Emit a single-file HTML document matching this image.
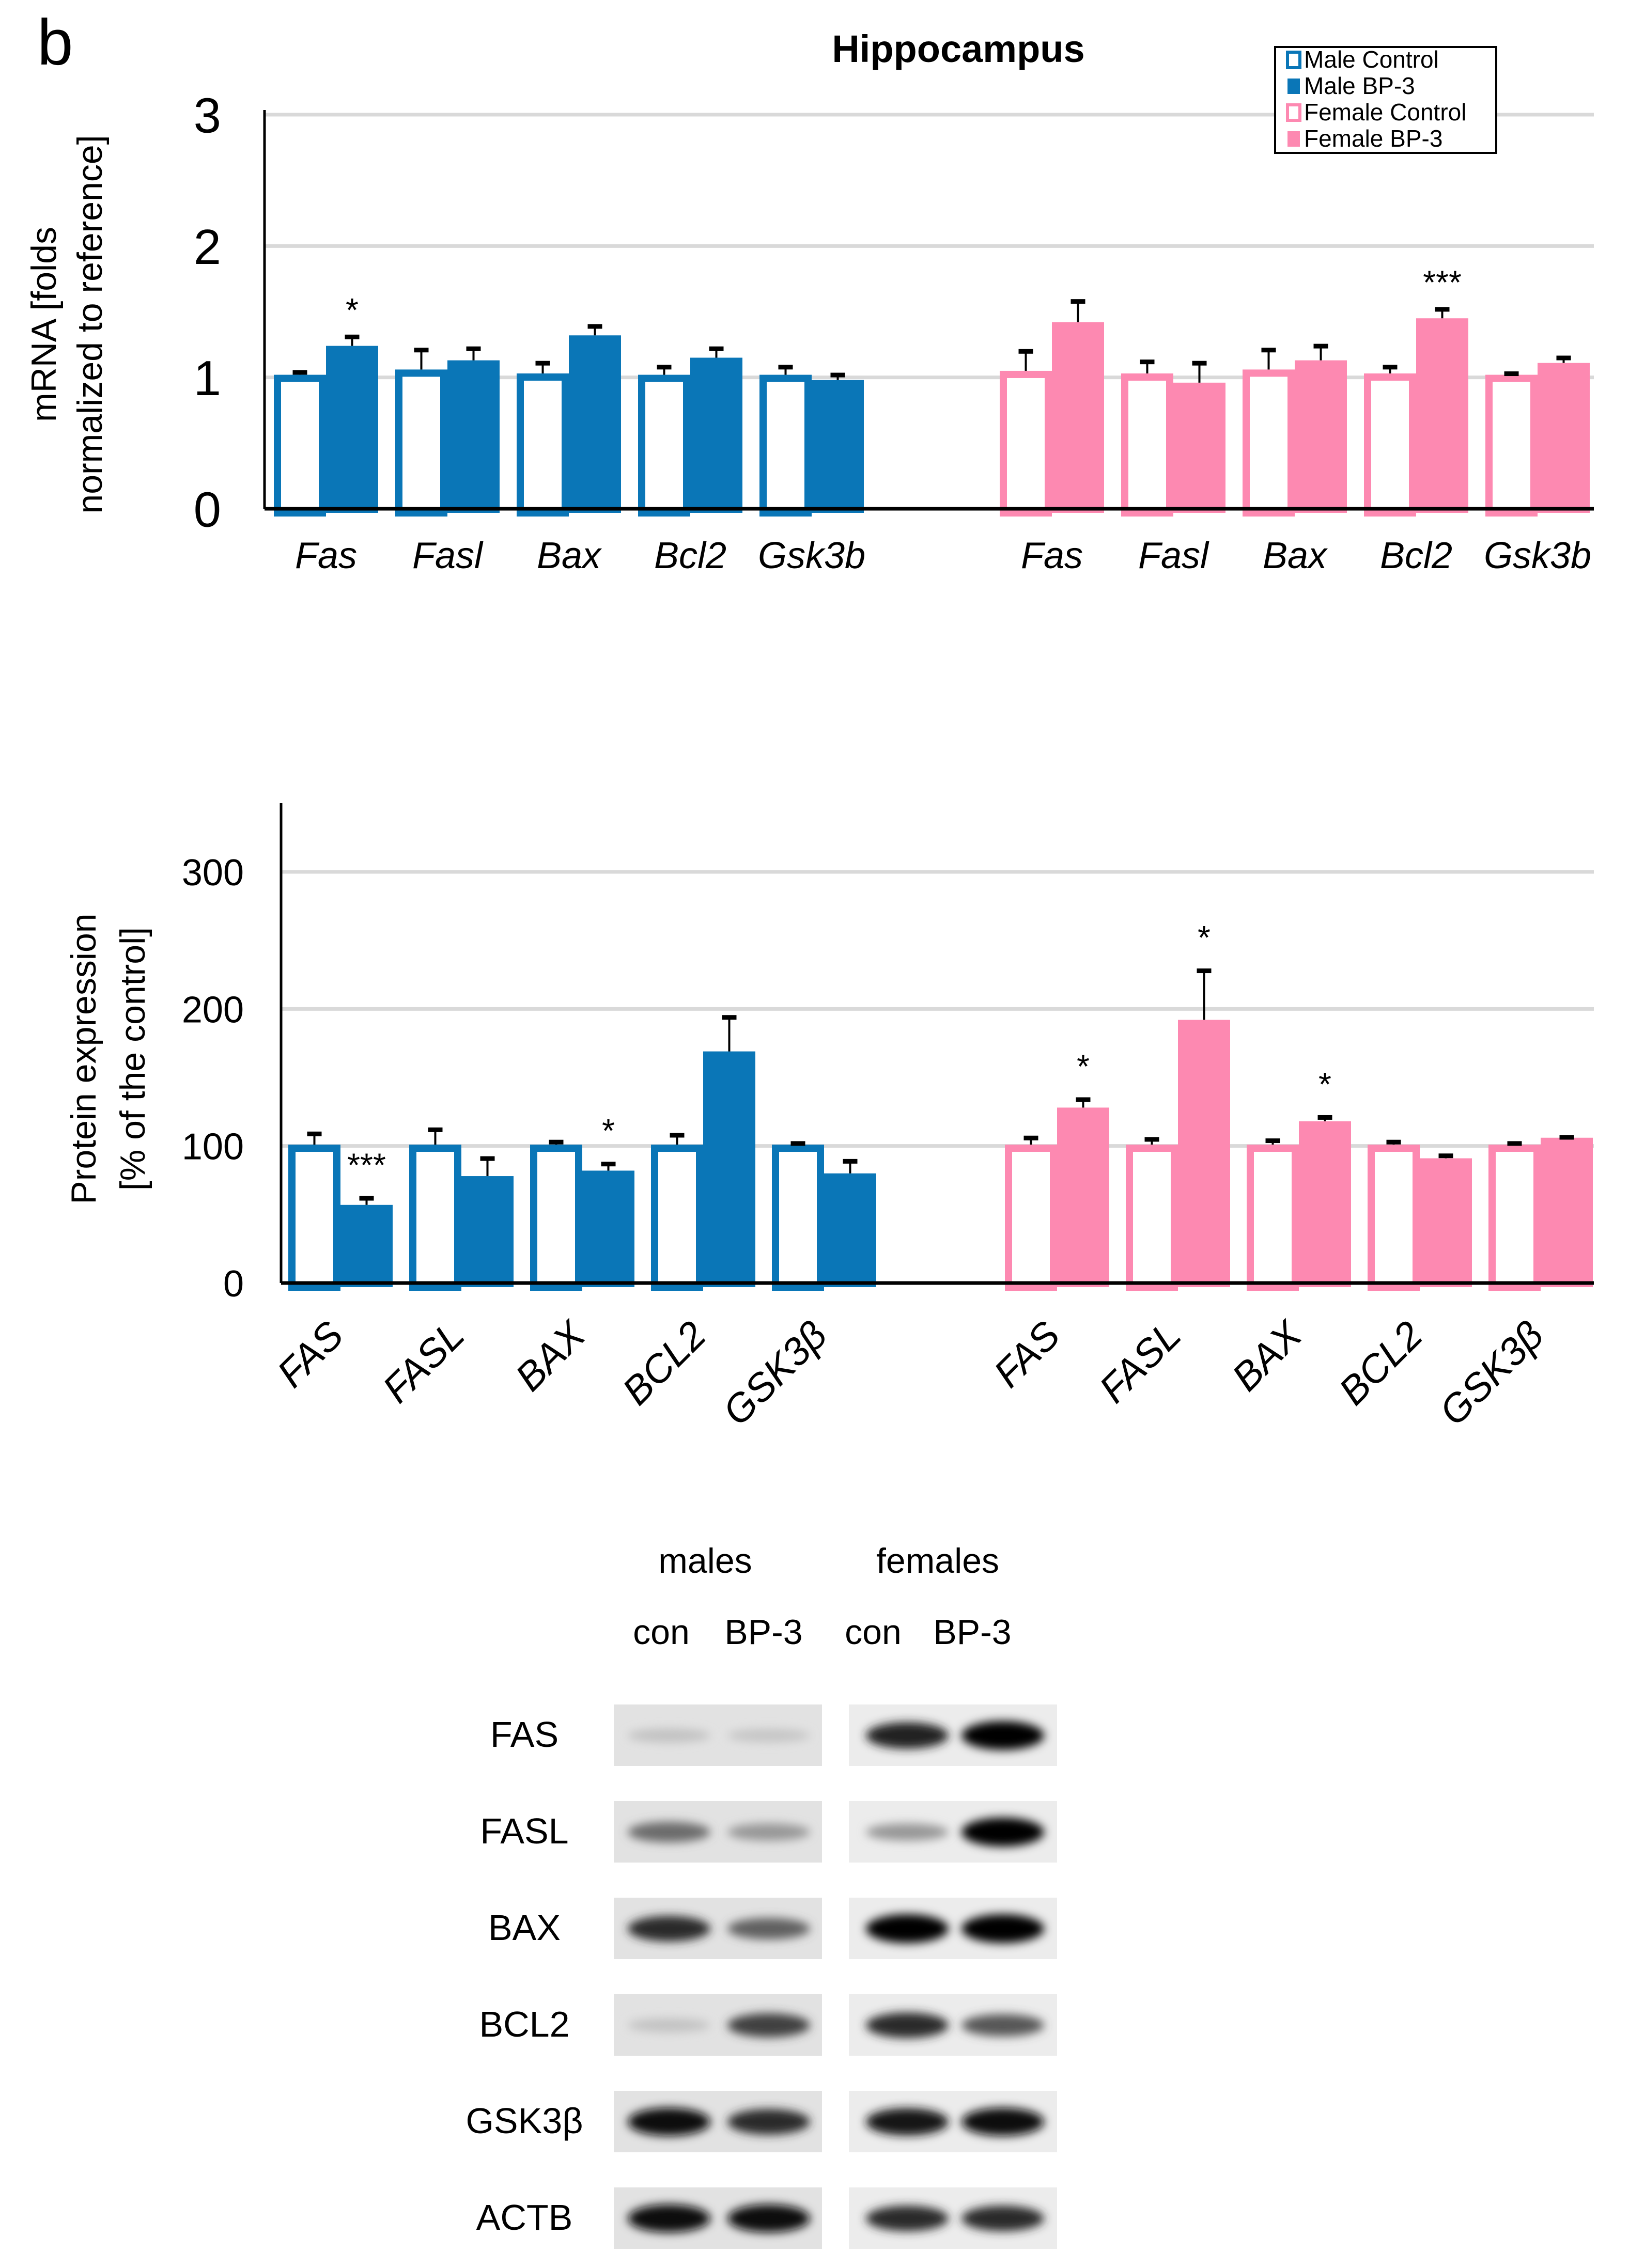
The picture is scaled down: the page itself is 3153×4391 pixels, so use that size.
<!DOCTYPE html>
<html><head><meta charset="utf-8"><style>
html,body{margin:0;padding:0;background:#fff}
svg{display:block}
text{font-family:"Liberation Sans",sans-serif}
</style></head><body>
<svg id="fig" width="3153" height="4391" viewBox="0 0 3153 4391" xmlns="http://www.w3.org/2000/svg">
<defs><filter id="blur" x="-50%" y="-100%" width="200%" height="300%"><feGaussianBlur stdDeviation="9"/></filter></defs>
<text x="72" y="125" font-size="125">b</text>
<text x="1855" y="120" font-size="74" font-weight="bold" text-anchor="middle">Hippocampus</text>
<g id="c1"></g>
<g id="c2"></g>
<g id="blot"></g>
</svg>
<script>
const NS='http://www.w3.org/2000/svg';
const genes1=['Fas','Fasl','Bax','Bcl2','Gsk3b'];
const maleCtrl1=[1.02,1.06,1.03,1.02,1.02];
const maleCtrlErr1=[0.02,0.15,0.08,0.06,0.06];
const maleBP1=[1.24,1.13,1.32,1.15,0.98];
const maleBPErr1=[0.07,0.09,0.07,0.07,0.04];
const femCtrl1=[1.05,1.03,1.06,1.03,1.02];
const femCtrlErr1=[0.15,0.09,0.15,0.05,0.01];
const femBP1=[1.42,0.96,1.13,1.45,1.11];
const femBPErr1=[0.16,0.15,0.11,0.07,0.04];
const stars1=[['male',0,'*'],['female',3,'***']];
const ticks1=[0,1,2,3];

const genes2=['FAS','FASL','BAX','BCL2','GSK3β'];
const maleCtrl2=[101,101,101,101,101];
const maleCtrlErr2=[8,11,2,7,1];
const maleBP2=[57,78,82,169,80];
const maleBPErr2=[5,13,5,25,9];
const femCtrl2=[101,101,101,101,101];
const femCtrlErr2=[5,4,3,2,1];
const femBP2=[128,192,118,91,106];
const femBPErr2=[6,36,3,2,0.5];
const stars2=[['male',0,'***'],['male',2,'*'],['female',0,'*'],['female',1,'*'],['female',2,'*']];
const ticks2=[0,100,200,300];

function el(tag,attrs,parent,txt){const e=document.createElementNS(NS,tag);for(const k in attrs)e.setAttribute(k,attrs[k]);if(txt!==undefined)e.textContent=txt;parent.appendChild(e);return e;}
const BLUE='#0a76b7',PINK='#fd89b1';

function chart(g,cfg){
  const y=v=>cfg.y0-(v-0)*(cfg.y0-cfg.yTop)/(cfg.vTop);
  cfg.ticks.forEach(t=>{
    if(t>0){const l=el('line',{x1:cfg.ax,x2:cfg.xr,y1:y(t),y2:y(t),stroke:'#d9d9d9','stroke-width':7},g);
      }
    const tx=el('text',{x:cfg.tickX,y:y(t)+cfg.tickFs*0.36,'font-size':cfg.tickFs,'text-anchor':'end'},g,String(t));
    
  });
  const ya=el('line',{x1:cfg.ax,x2:cfg.ax,y1:cfg.axTop,y2:cfg.y0,stroke:'#000','stroke-width':5},g);
  
  const bw=cfg.bw;
  const groups=[['male',cfg.mStart,BLUE,cfg.mc,cfg.mce,cfg.mb,cfg.mbe],['female',cfg.fStart,PINK,cfg.fc,cfg.fce,cfg.fb,cfg.fbe]];
  groups.forEach(([sex,start,col,c,ce,b,be])=>{
    cfg.genes.forEach((gn,i)=>{
      const x=start+i*cfg.pitch;
      const sw=14;
      const r1=el('rect',{x:x+sw/2,y:y(c[i])+sw/2,width:bw-sw,height:cfg.y0+8-y(c[i])-sw/2,fill:'#fff',stroke:col,'stroke-width':sw},g);
      
      const r2=el('rect',{x:x+bw,y:y(b[i]),width:bw,height:cfg.y0+8-y(b[i]),fill:col},g);
      
      [[x+bw/2,c[i],ce[i]],[x+bw*1.5,b[i],be[i]]].forEach(([cx,v,e])=>{
        const l=el('line',{x1:cx,x2:cx,y1:y(v),y2:y(v+e),stroke:'#000','stroke-width':4},g);
        
        const cp=el('rect',{x:cx-14,y:y(v+e)-4,width:28,height:9,fill:'#000'},g);
        
      });
      const gc=x+bw;
      if(cfg.rot){
        const t=el('text',{x:gc+10,y:cfg.labY,'font-size':cfg.labFs,'font-style':'italic','text-anchor':'end',transform:`rotate(-45 ${gc+10} ${cfg.labY})`},g,gn);
        
      } else {
        const t=el('text',{x:gc,y:cfg.labY,'font-size':cfg.labFs,'font-style':'italic','text-anchor':'middle'},g,gn);
        
      }
    });
  });
  cfg.stars.forEach(([sex,i,s])=>{
    const start=sex==='male'?cfg.mStart:cfg.fStart;
    const arr=sex==='male'?[cfg.mb,cfg.mbe]:[cfg.fb,cfg.fbe];
    const cx=start+i*cfg.pitch+bw*1.5;
    const t=el('text',{x:cx,y:y(arr[0][i]+arr[1][i])-cfg.starGap,'font-size':64,'text-anchor':'middle'},g,s);
    
  });
  const xa=el('line',{x1:cfg.ax,x2:cfg.xr,y1:cfg.y0,y2:cfg.y0,stroke:'#000','stroke-width':7},g);
  
  cfg.title.forEach((ln,k)=>{
    const tx=cfg.titleX[k];
    const t=el('text',{x:tx,y:cfg.titleY,'font-size':cfg.titleFs,'text-anchor':'middle',transform:`rotate(-90 ${tx} ${cfg.titleY})`},g,ln);
    
  });
}

chart(document.getElementById('c1'),{y0:985,yTop:222,vTop:3,ticks:ticks1,ax:512,xr:3085,axTop:213,tickX:428,tickFs:96,
  bw:101,pitch:235,mStart:530,fStart:1935,genes:genes1,
  mc:maleCtrl1,mce:maleCtrlErr1,mb:maleBP1,mbe:maleBPErr1,fc:femCtrl1,fce:femCtrlErr1,fb:femBP1,fbe:femBPErr1,
  labY:1100,labFs:72,rot:false,stars:stars1,starGap:30,
  title:['mRNA [folds','normalized to reference]'],titleX:[108,197],titleY:628,titleFs:68});

chart(document.getElementById('c2'),{y0:2484,yTop:1688,vTop:300,ticks:ticks2,ax:544,xr:3085,axTop:1555,tickX:472,tickFs:72,
  bw:101,pitch:234,mStart:558,fStart:1945,genes:genes2,
  mc:maleCtrl2,mce:maleCtrlErr2,mb:maleBP2,mbe:maleBPErr2,fc:femCtrl2,fce:femCtrlErr2,fb:femBP2,fbe:femBPErr2,
  labY:2590,labFs:76,rot:true,stars:stars2,starGap:42,
  title:['Protein expression','[% of the control]'],titleX:[185,280],titleY:2050,titleFs:68});

/* legend */
(function(){
  const g=document.getElementById('c1');
  const lg=el('g',{},g);
  el('rect',{x:2468,y:91,width:428,height:205,fill:'#fff',stroke:'#000','stroke-width':4},lg);
  const items=[['Male Control',BLUE,false],['Male BP-3',BLUE,true],['Female Control',PINK,false],['Female BP-3',PINK,true]];
  items.forEach(([n,c,f],k)=>{
    const yy=116+k*51;
    const it=el('g',{},lg);
    el('rect',{x:2492,y:yy-15,width:24,height:30,fill:f?c:'#fff',stroke:c,'stroke-width':f?0:6},it);
    el('text',{x:2524,y:yy+15,'font-size':46},it,n);
  });
})();

/* western blot */
const blotProteins=['FAS','FASL','BAX','BCL2','GSK3β','ACTB'];
const bandMaleCon=[0.1,0.5,0.8,0.1,0.95,0.95];
const bandMaleBP=[0.08,0.3,0.55,0.7,0.8,0.95];
const bandFemCon=[0.85,0.3,1.0,0.8,0.9,0.8];
const bandFemBP=[1.0,1.0,1.0,0.6,0.95,0.8];
(function(){
  const g=document.getElementById('blot');
  const hdr=[['males',1365,3045],['females',1815,3045],['con',1280,3183],['BP-3',1478,3183],['con',1690,3183],['BP-3',1882,3183]];
  hdr.forEach(([t,x,y])=>{const e=el('text',{x:x,y:y,'font-size':68,'text-anchor':'middle'},g,t);
    });
  const lanes=[[bandMaleCon,1295],[bandMaleBP,1488],[bandFemCon,1756],[bandFemBP,1941]];
  blotProteins.forEach((p,r)=>{
    const top=3300+r*187;
    const lb=el('text',{x:1015,y:top+82,'font-size':70,'text-anchor':'middle'},g,p);
    
    [[1188,'#e2e2e2'],[1643,'#ececec']].forEach(([bx,bg])=>{
      const b=el('rect',{x:bx,y:top,width:403,height:119,fill:bg},g);
      
    });
    lanes.forEach(([arr,cx])=>{
      const v=arr[r];const gray=Math.round(215*(1-v));
      const e=el('ellipse',{cx:cx,cy:top+60,rx:80,ry:12+16*v,fill:`rgb(${gray},${gray},${gray})`,filter:'url(#blur)'},g);
      
    });
  });
})();
</script>
</body></html>
